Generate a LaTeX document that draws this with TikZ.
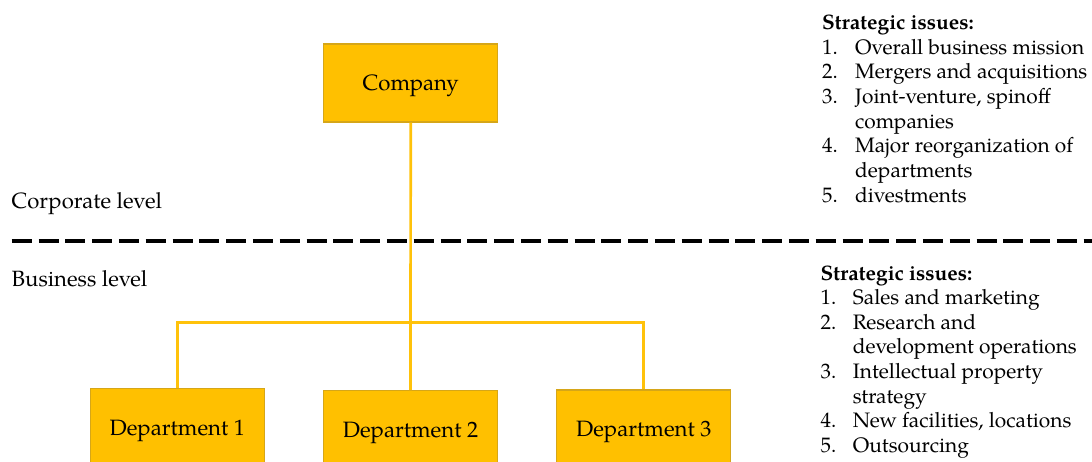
\documentclass[tikz,border=0pt]{standalone}
\usepackage{fontspec}
\setmainfont{TeX Gyre Pagella}
\definecolor{gold}{RGB}{255,192,0}
\definecolor{goldborder}{RGB}{214,166,24}
\definecolor{goldline}{RGB}{255,194,10}
\tikzset{
  box/.style={draw=goldborder, fill=gold, line width=1.3pt, minimum width=174pt,
    minimum height=78pt, inner sep=0pt, text height=15pt, text depth=0pt,
    font=\fontsize{22.2}{24}\selectfont},
  conn/.style={draw=goldline, line width=2.7pt},
  divider/.style={draw=black, line width=3.3pt, dash pattern=on 20pt off 6.8pt},
  lbl/.style={anchor=base west, inner sep=0pt, font=\fontsize{22.1}{24}\selectfont},
  item/.style={anchor=base west, inner sep=0pt, font=\fontsize{20.9}{24}\selectfont},
  head/.style={anchor=base west, inner sep=0pt, font=\fontsize{20.9}{24}\selectfont\bfseries}
}
\begin{document}
\begin{tikzpicture}[x=1pt,y=-1pt]
\clip (0,0) rectangle (1092,461);
% boxes
\node[box] (co) at (410.7,83) {Company};
\node[box] (d1) at (177.3,427.7) {Department 1};
\node[box] (d2) at (410.5,429.7) {Department 2};
\node[box] (d3) at (643.8,429) {Department 3};
% connectors
\coordinate (j) at (410.7,322.7);
\draw[conn] (co.south) -- (d2.north);
\draw[conn] (d1.north) |- (j) -| (d3.north);
% divider
\coordinate (dl) at (11.7,241);
\coordinate (dr) at (1092,241);
\draw[divider] (dl) -- (dr);
% level labels
\node[lbl] (corp) at (11.5,208.3) {Corporate level};
\node[lbl] (bus) at (11.5,286.3) {Business level};
% corporate strategic issues
\node[head] (h1) at (822,29.3) {Strategic issues:};
\node[item] (a1n) at (822,54.0) {1.};
\node[item] (a1) at (855,54.0) {Overall business mission};
\node[item] (a2n) at (822,78.7) {2.};
\node[item] (a2) at (855,78.7) {Mergers and acquisitions};
\node[item] (a3n) at (822,103.3) {3.};
\node[item] (a3) at (855,103.3) {Joint-venture, spinoff};
\node[item] (a3b) at (855,128.0) {companies};
\node[item] (a4n) at (822,152.7) {4.};
\node[item] (a4) at (855,152.7) {Major reorganization of};
\node[item] (a4b) at (855,177.3) {departments};
\node[item] (a5n) at (822,202.0) {5.};
\node[item] (a5) at (855,202.0) {divestments};
% business strategic issues
\node[head] (h2) at (820.5,280.0) {Strategic issues:};
\node[item] (b1n) at (820.5,304.6) {1.};
\node[item] (b1) at (852.7,304.6) {Sales and marketing};
\node[item] (b2n) at (820.5,329.2) {2.};
\node[item] (b2) at (852.7,329.2) {Research and};
\node[item] (b2b) at (852.7,353.8) {development operations};
\node[item] (b3n) at (820.5,378.5) {3.};
\node[item] (b3) at (852.7,378.5) {Intellectual property};
\node[item] (b3b) at (852.7,403.1) {strategy};
\node[item] (b4n) at (820.5,427.7) {4.};
\node[item] (b4) at (852.7,427.7) {New facilities, locations};
\node[item] (b5n) at (820.5,452.3) {5.};
\node[item] (b5) at (852.7,452.3) {Outsourcing};
\end{tikzpicture}
\end{document}
